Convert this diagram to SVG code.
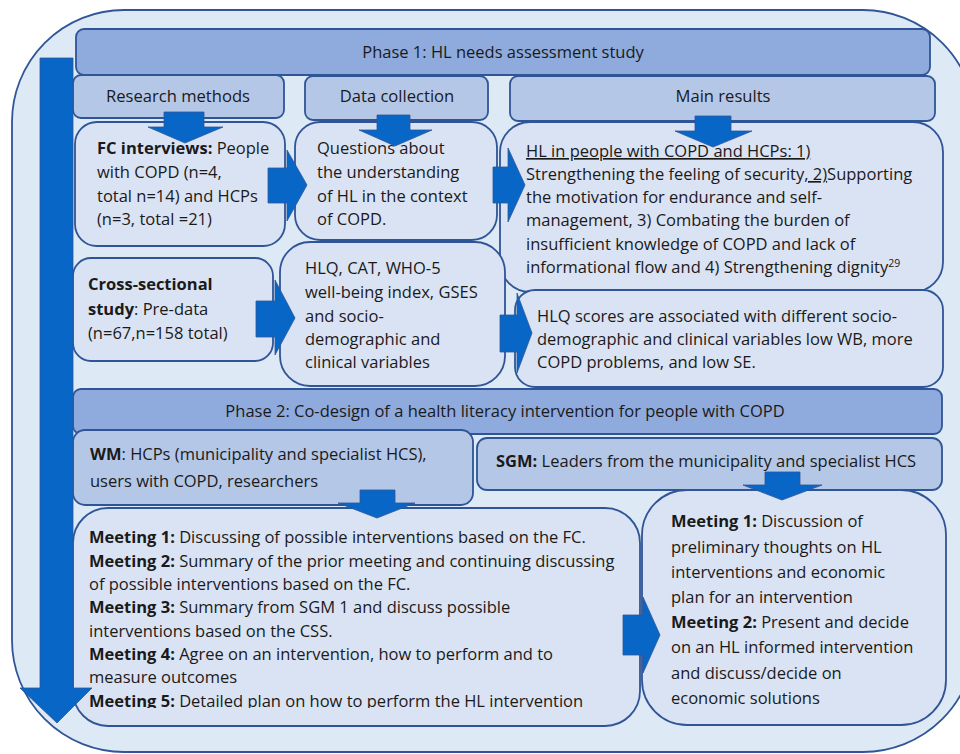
<svg xmlns="http://www.w3.org/2000/svg" width="960" height="754" viewBox="0 0 960 754">
<style>
text{font-family:"Open Sans","Noto Sans","Liberation Sans",sans-serif;font-size:16.5px;fill:#1a1a1a}
.b{font-weight:bold}
.hd{text-anchor:middle}
.ph{font-size:16.5px}
.ch{font-size:16.6px}
.bar{fill:#8faadc;stroke:#2f5597;stroke-width:1.8}
.hdr{fill:#b4c7e7;stroke:#2f5597;stroke-width:1.8}
.box{fill:#dae3f3;stroke:#2f5597;stroke-width:1.8}
.arr{fill:#0866c6;stroke:#2f5597;stroke-width:0.8}
</style>
<defs>
<clipPath id="mclip"><rect x="60" y="500" width="600" height="208"/></clipPath>
</defs>
<rect id="frame" x="12" y="10" width="963" height="742" rx="112" ry="112" fill="#dee9f6" stroke="#2f5597" stroke-width="1.8"/>

<g id="phase1"><rect class="bar" x="76" y="29" width="854" height="46" rx="8"/><text class="hd ph" x="503" y="58">Phase 1: HL needs assessment study</text></g>

<g id="fc"><rect class="box" x="75" y="122" width="210" height="124" rx="22"/>
<text x="97" y="154"><tspan class="b">FC interviews:</tspan> People</text>
<text x="97" y="178">with COPD (n=4,</text>
<text x="97" y="202">total n=14) and HCPs</text>
<text x="97" y="225">(n=3, total =21)</text></g>

<g id="questions"><rect class="box" x="295" y="122" width="202" height="118" rx="25"/>
<text x="317" y="154">Questions about</text>
<text x="317" y="178">the understanding</text>
<text x="317" y="202">of HL in the context</text>
<text x="317" y="225">of COPD.</text></g>

<g id="results1"><rect class="box" x="500" y="122" width="443" height="170" rx="30"/>
<text x="526" y="157"><tspan text-decoration="underline">HL in people with COPD and HCPs: 1)</tspan></text>
<text x="526" y="180">Strengthening the feeling of security<tspan text-decoration="underline">, 2)</tspan>Supporting</text>
<text x="526" y="203">the motivation for endurance and self-</text>
<text x="526" y="226">management, 3) Combating the burden of</text>
<text x="526" y="250">insufficient knowledge of COPD and lack of</text>
<text x="526" y="273">informational flow and 4) Strengthening dignity<tspan font-size="10.5" dy="-6">29</tspan></text></g>

<g id="cross"><rect class="box" x="73" y="258" width="200" height="103" rx="18"/>
<text x="88" y="290" class="b">Cross-sectional</text>
<text x="88" y="315"><tspan class="b">study</tspan>: Pre-data</text>
<text x="88" y="339">(n=67,n=158 total)</text></g>

<g id="hlq"><rect class="box" x="280" y="242" width="225" height="144" rx="30"/>
<text x="305" y="274">HLQ, CAT, WHO-5</text>
<text x="305" y="298">well-being index, GSES</text>
<text x="305" y="322">and socio-</text>
<text x="305" y="345">demographic and</text>
<text x="305" y="368">clinical variables</text></g>

<g id="results2"><rect class="box" x="515" y="290" width="428" height="97" rx="20"/>
<text x="537" y="322">HLQ scores are associated with different socio-</text>
<text x="537" y="345">demographic and clinical variables low WB, more</text>
<text x="537" y="368">COPD problems, and low SE.</text></g>

<g id="h-methods"><rect class="hdr" x="73" y="75" width="211" height="43" rx="8"/><text class="hd ch" x="178" y="102">Research methods</text></g>
<g id="h-data"><rect class="hdr" x="305" y="76" width="183" height="44" rx="8"/><text class="hd ch" x="397" y="102">Data collection</text></g>
<g id="h-results"><rect class="hdr" x="510" y="76" width="425" height="45" rx="8"/><text class="hd ch" x="723" y="102">Main results</text></g>

<g id="phase2"><rect class="bar" x="73" y="389" width="869" height="45" rx="8"/><text class="hd ph" x="505" y="417">Phase 2: Co-design of a health literacy intervention for people with COPD</text></g>

<g id="wm"><rect class="hdr" x="73" y="430" width="400" height="75" rx="12"/>
<text x="90" y="460"><tspan class="b">WM</tspan>: HCPs (municipality and specialist HCS),</text>
<text x="90" y="487" font-size="18">users with COPD, researchers</text></g>

<g id="sgm"><rect class="hdr" x="477" y="438" width="465" height="52" rx="10"/>
<text x="496" y="467"><tspan class="b">SGM:</tspan> Leaders from the municipality and specialist HCS</text></g>

<g id="wm-meetings"><rect class="box" x="73" y="508" width="567" height="218" rx="35"/>
<g clip-path="url(#mclip)">
<text x="89" y="543"><tspan class="b">Meeting 1:</tspan> Discussing of possible interventions based on the FC.</text>
<text x="89" y="567"><tspan class="b">Meeting 2:</tspan> Summary of the prior meeting and continuing discussing</text>
<text x="89" y="590">of possible interventions based on the FC.</text>
<text x="89" y="613"><tspan class="b">Meeting 3:</tspan> Summary from SGM 1 and discuss possible</text>
<text x="89" y="637">interventions based on the CSS.</text>
<text x="89" y="660"><tspan class="b">Meeting 4:</tspan> Agree on an intervention, how to perform and to</text>
<text x="89" y="683">measure outcomes</text>
<text x="89" y="707"><tspan class="b">Meeting 5:</tspan> Detailed plan on how to perform the  HL intervention</text>
</g></g>

<g id="sgm-meetings"><rect class="box" x="642" y="490" width="304" height="235" rx="45"/>
<text x="671" y="527"><tspan class="b">Meeting 1:</tspan> Discussion of</text>
<text x="671" y="553">preliminary thoughts on HL</text>
<text x="671" y="578">interventions and economic</text>
<text x="671" y="603">plan for an intervention</text>
<text x="671" y="628"><tspan class="b">Meeting 2:</tspan> Present and decide</text>
<text x="671" y="653">on an HL informed intervention</text>
<text x="671" y="679">and discuss/decide on</text>
<text x="671" y="704">economic solutions</text></g>

<g id="connectors">
<polygon id="timeline" class="arr" points="40,58 73,58 73,688 92,688 57,723 20,688 40,688"/>
<polygon class="arr" points="164,112 204,112 204,127 223,127 185,143 148,127 164,127"/>
<polygon class="arr" points="377,115 410,115 410,130 432,130 395,146 359,130 377,130"/>
<polygon class="arr" points="695,116 731,116 731,131 752,131 713,147 675,131 695,131"/>
<polygon class="arr" points="268,168 287,168 287,150 307,185 287,221 287,203 268,203"/>
<polygon class="arr" points="493,167 508,167 508,148 525,185 508,222 508,203 493,203"/>
<polygon class="arr" points="256,301 275,301 275,280 295,318 275,355 275,337 256,337"/>
<polygon class="arr" points="500,315 517,315 517,293 532,333 517,373 517,352 500,352"/>
<polygon class="arr" points="360,490 395,490 395,503 415,503 377,518 338,503 360,503"/>
<polygon class="arr" points="765,472 800,472 800,485 822,485 782,500 743,485 765,485"/>
<polygon class="arr" points="623,615 643,615 643,597 660,635 643,673 643,655 623,655"/>
</g>
</svg>
